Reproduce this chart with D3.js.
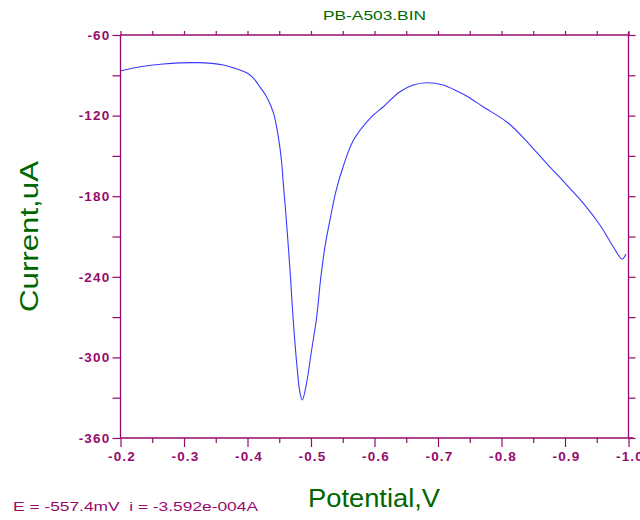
<!DOCTYPE html>
<html>
<head>
<meta charset="utf-8">
<script src="https://cdn.jsdelivr.net/npm/d3@7"></script>
<style>
  body { margin: 0; background: #fff; }
  svg { display: block; }
</style>
</head>
<body>
<svg id="chart"></svg>
<script>
// potential (V) and current (uA)
var potential = [-0.201, -0.231, -0.267, -0.320, -0.362, -0.388, -0.400, -0.410, -0.420, -0.430,
  -0.441, -0.4485, -0.4539, -0.4559, -0.4603, -0.4643, -0.4680, -0.4699, -0.4717, -0.4735,
  -0.4780, -0.4827, -0.4863, -0.493, -0.501, -0.509, -0.515, -0.522, -0.531, -0.540,
  -0.551, -0.567, -0.593, -0.614, -0.640, -0.661, -0.682, -0.708, -0.732, -0.745,
  -0.771, -0.811, -0.845, -0.871, -0.903, -0.929, -0.955, -0.976, -0.990, -0.996];
var current = [-86.6, -83.6, -81.6, -80.6, -82.3, -86.1, -88.5, -92.5, -99.0, -105.9,
  -118.1, -135.7, -155.3, -167.9, -192.5, -217.6, -242.4, -257.3, -269.7, -281.8,
  -306.9, -326.5, -331.7, -319.1, -294.5, -269.7, -242.4, -217.6, -195.0, -175.0,
  -157.5, -138.2, -122.0, -113.4, -102.2, -97.2, -95.5, -97.2, -102.2, -105.4,
  -113.4, -125.7, -141.9, -155.5, -171.7, -185.3, -201.4, -217.6, -226.8, -223.0];

var xTicks = [-0.2, -0.3, -0.4, -0.5, -0.6, -0.7, -0.8, -0.9, -1.0];
var xMinor = [-0.25, -0.35, -0.45, -0.55, -0.65, -0.75, -0.85, -0.95];
var yTicks = [-60, -120, -180, -240, -300, -360];
var yMinor = [-90, -150, -210, -270, -330];

var width = 640, height = 520;
var plotLeft = 120.5, plotRight = 628.5, plotTop = 35, plotBottom = 438;
var axisColor = "#960a6e", textGreen = "#006600";

var svg = d3.select("#chart").attr("width", width).attr("height", height);

var x = d3.scaleLinear().domain([-0.2, -1.0]).range([plotLeft, plotRight]);
var y = d3.scaleLinear().domain([-60, -360]).range([plotTop, plotBottom]);

function styleAxis(g) {
  g.select(".domain").remove();
  g.selectAll(".tick line").attr("stroke", axisColor).attr("stroke-width", 1.2);
  g.selectAll(".tick text")
    .attr("fill", axisColor)
    .style("font-family", "'Liberation Sans', Arial, sans-serif")
    .style("font-size", "13.5px")
    .style("font-weight", "bold")
    .style("letter-spacing", "1.2px");
}

// bottom axis
svg.append("g").attr("transform", "translate(0," + plotBottom + ")")
  .call(d3.axisBottom(x).tickValues(xTicks).tickSize(9).tickPadding(4)
    .tickFormat(function(d) { return d.toFixed(1); }))
  .call(styleAxis)
  .selectAll(".tick text").attr("dx", "1px");
svg.append("g").attr("transform", "translate(0," + plotBottom + ")")
  .call(d3.axisBottom(x).tickValues(xMinor).tickSize(5).tickFormat(""))
  .call(styleAxis);

// top axis
svg.append("g").attr("transform", "translate(0," + plotTop + ")")
  .call(d3.axisTop(x).tickValues(xTicks.concat(xMinor)).tickSize(4).tickFormat(""))
  .call(styleAxis);

// left axis
svg.append("g").attr("transform", "translate(" + plotLeft + ",0)")
  .call(d3.axisLeft(y).tickValues(yTicks).tickSize(8).tickPadding(2)
    .tickFormat(function(d) { return String(d); }))
  .call(styleAxis);
svg.append("g").attr("transform", "translate(" + plotLeft + ",0)")
  .call(d3.axisLeft(y).tickValues(yMinor).tickSize(8).tickFormat(""))
  .call(styleAxis);

// right axis
svg.append("g").attr("transform", "translate(" + plotRight + ",0)")
  .call(d3.axisRight(y).tickValues(yTicks.concat(yMinor)).tickSize(7).tickFormat(""))
  .call(styleAxis);

// frame
var frame = svg.append("g").attr("stroke", axisColor).attr("stroke-width", 1.3);
frame.append("line").attr("x1", plotLeft).attr("x2", plotRight + 5).attr("y1", plotBottom).attr("y2", plotBottom);
frame.append("line").attr("x1", plotLeft).attr("x2", plotRight).attr("y1", plotTop).attr("y2", plotTop);
frame.append("line").attr("x1", plotLeft).attr("x2", plotLeft).attr("y1", plotTop).attr("y2", plotBottom);
frame.append("line").attr("x1", plotRight).attr("x2", plotRight).attr("y1", plotTop - 3).attr("y2", plotBottom);

// trace
var pts = potential.map(function(v, i) { return [v, current[i]]; });
svg.append("path")
  .datum(pts)
  .attr("fill", "none")
  .attr("stroke", "#3a3aff")
  .attr("stroke-width", 1.1)
  .attr("d", d3.line()
    .x(function(d) { return x(d[0]); })
    .y(function(d) { return y(d[1]); })
    .curve(d3.curveCatmullRom.alpha(0.5)));

// texts
svg.append("text")
  .attr("x", (plotLeft + plotRight) / 2).attr("y", 20)
  .attr("text-anchor", "middle")
  .attr("fill", textGreen)
  .attr("textLength", 103).attr("lengthAdjust", "spacingAndGlyphs")
  .style("font-family", "'Liberation Sans', Arial, sans-serif")
  .style("font-size", "13.5px")
  .text("PB-A503.BIN");

svg.append("text")
  .attr("x", 308).attr("y", 506.5)
  .attr("fill", textGreen)
  .attr("textLength", 132).attr("lengthAdjust", "spacingAndGlyphs")
  .style("font-family", "'Liberation Sans', Arial, sans-serif")
  .style("font-size", "25px")
  .text("Potential,V");

svg.append("text")
  .attr("transform", "translate(38,312) rotate(-90)")
  .attr("fill", textGreen)
  .attr("textLength", 151).attr("lengthAdjust", "spacingAndGlyphs")
  .style("font-family", "'Liberation Sans', Arial, sans-serif")
  .style("font-size", "25px")
  .text("Current,uA");

svg.append("text")
  .attr("x", 13).attr("y", 510.5)
  .attr("fill", axisColor)
  .attr("textLength", 245).attr("lengthAdjust", "spacingAndGlyphs")
  .style("font-family", "'Liberation Sans', Arial, sans-serif")
  .style("font-size", "13px")
  .style("white-space", "pre")
  .text("E = -557.4mV  i = -3.592e-004A");
</script>
</body>
</html>
